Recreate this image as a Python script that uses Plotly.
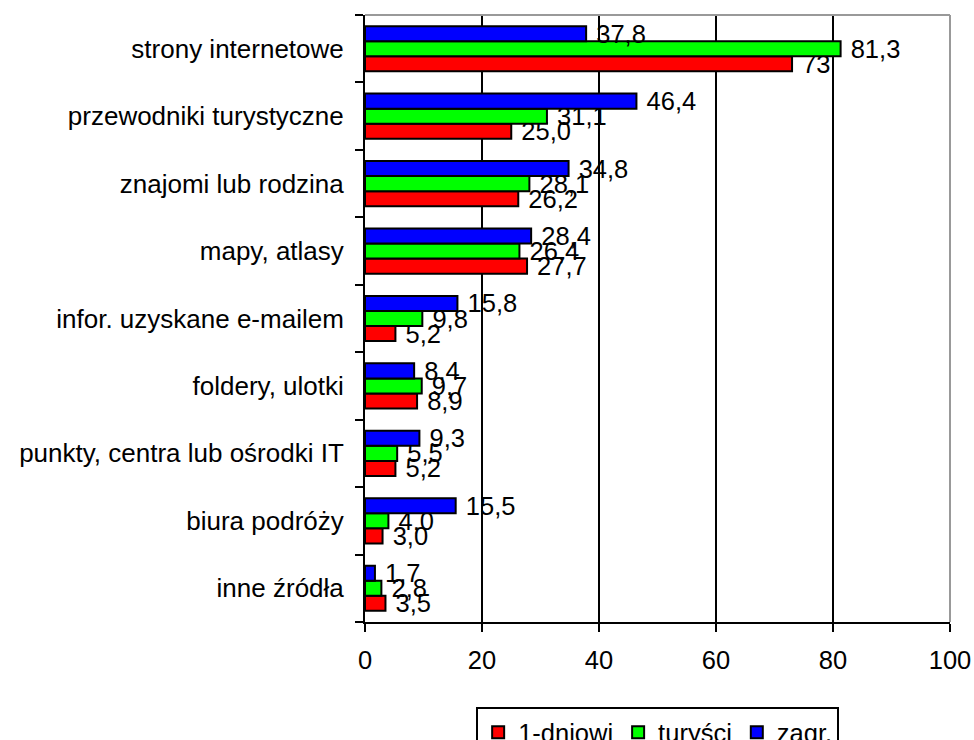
import plotly.graph_objects as go

categories = [
    "strony internetowe",
    "przewodniki turystyczne",
    "znajomi lub rodzina",
    "mapy, atlasy",
    "infor. uzyskane e-mailem",
    "foldery, ulotki",
    "punkty, centra lub ośrodki IT",
    "biura podróży",
    "inne źródła",
]
series_names = ["1-dniowi", "turyści", "zagr."]
jednodniowi = [73, 25.0, 26.2, 27.7, 5.2, 8.9, 5.2, 3.0, 3.5]
turysci = [81.3, 31.1, 28.1, 26.4, 9.8, 9.7, 5.5, 4.0, 2.8]
zagr = [37.8, 46.4, 34.8, 28.4, 15.8, 8.4, 9.3, 15.5, 1.7]
jednodniowi_labels = ["73", "25,0", "26,2", "27,7", "5,2", "8,9", "5,2", "3,0", "3,5"]
turysci_labels = ["81,3", "31,1", "28,1", "26,4", "9,8", "9,7", "5,5", "4,0", "2,8"]
zagr_labels = ["37,8", "46,4", "34,8", "28,4", "15,8", "8,4", "9,3", "15,5", "1,7"]
x_ticks = [0, 20, 40, 60, 80, 100]

colors = ["#FF0000", "#00FF00", "#0000FF"]
FONT = "Liberation Sans, Arial, sans-serif"
FS = 25.5

fig = go.Figure()
for name, vals, labs, col in zip(series_names,
                                 [jednodniowi, turysci, zagr],
                                 [jednodniowi_labels, turysci_labels, zagr_labels],
                                 colors):
    fig.add_trace(go.Bar(
        name=name, y=categories, x=vals, orientation="h",
        marker=dict(color=col, line=dict(color="black", width=2)),
        text=["\u00a0" + t for t in labs], textposition="outside",
        constraintext="none", cliponaxis=False,
        textfont=dict(family=FONT, size=FS, color="black"),
    ))

fig.update_layout(
    width=974, height=740,
    margin=dict(l=364.5, r=24, t=15, b=118, autoexpand=False),
    paper_bgcolor="white", plot_bgcolor="white",
    barmode="group", bargap=0.33, bargroupgap=0,
    font=dict(family=FONT, size=FS, color="black"),
    showlegend=True,
    legend=dict(orientation="h", x=0.19, xanchor="left", y=-0.1405, yanchor="top",
                bordercolor="black", borderwidth=2, bgcolor="white",
                font=dict(family=FONT, size=FS, color="black"),
                traceorder="normal"),
    xaxis=dict(range=[0, 100], tickvals=x_ticks, ticktext=[str(v) for v in x_ticks],
               showgrid=True, gridcolor="black", gridwidth=2, zeroline=False,
               showline=True, linecolor="black", linewidth=2,
               ticks="outside", ticklen=8, tickwidth=2, tickcolor="black",
               ticklabelstandoff=6, fixedrange=True),
    yaxis=dict(categoryorder="array", categoryarray=categories[::-1],
               showgrid=False, zeroline=False,
               showline=True, linecolor="black", linewidth=2,
               ticks="outside", tickson="boundaries", ticklen=8, tickwidth=2,
               tickcolor="black", ticklabelstandoff=14, fixedrange=True,
               tickfont=dict(family=FONT, size=26, color="black")),
    shapes=[
        dict(type="line", xref="paper", yref="paper", x0=0, x1=1, y0=1, y1=1,
             line=dict(color="#999999", width=2), layer="above"),
        dict(type="line", xref="paper", yref="paper", x0=1, x1=1, y0=0, y1=1,
             line=dict(color="#999999", width=2), layer="above"),
    ],
)

fig.write_html(
    "out.html",
    config={"displayModeBar": False},
    post_script="document.body.style.margin='0';document.body.style.overflow='hidden';",
)
